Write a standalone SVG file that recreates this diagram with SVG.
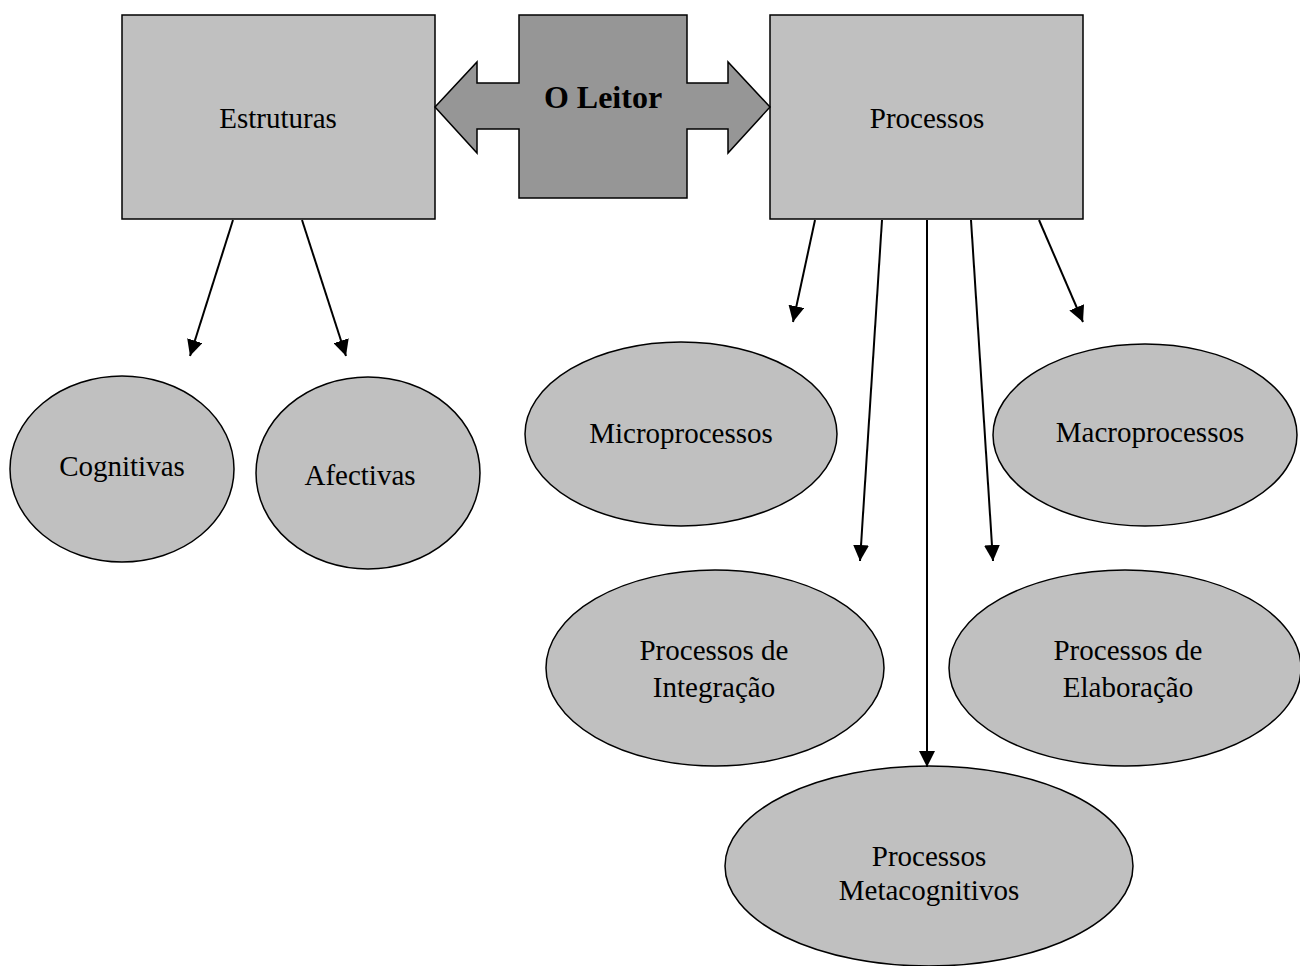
<svg xmlns="http://www.w3.org/2000/svg" width="1300" height="966" viewBox="0 0 1300 966">
<style>
.box{fill:#c0c0c0;stroke:#000;stroke-width:1.5}
.ell{fill:#c0c0c0;stroke:#000;stroke-width:1.5}
.t{font-family:"Liberation Serif","Times New Roman",serif;font-size:29px;fill:#000;text-anchor:middle}
.b{font-weight:bold;font-size:32px}
.c{stroke:#000;stroke-width:2;fill:none;marker-end:url(#ah)}
</style>
<defs>
<marker id="ah" markerWidth="8" markerHeight="8" refX="8" refY="4" orient="auto" markerUnits="strokeWidth" viewBox="0 0 8 8">
<path d="M0,0 L8,4 L0,8 z" fill="#000"/>
</marker>
</defs>
<rect width="1300" height="966" fill="#fff"/>
<g id="estruturas"><rect class="box" x="122" y="15" width="313" height="204"/><text class="t" x="278" y="128">Estruturas</text></g>
<g id="processos"><rect class="box" x="770" y="15" width="313" height="204"/><text class="t" x="927" y="128">Processos</text></g>
<g id="leitor"><path d="M519,15 H687 V83 H728 V62 L770,107 L728,153 V129 H687 V198 H519 V129 H477 V153 L435,107 L477,62 V83 H519 Z" fill="#969696" stroke="#000" stroke-width="1.5"/><text class="t b" x="603" y="108">O Leitor</text></g>
<g id="cognitivas"><ellipse class="ell" cx="122" cy="469" rx="112" ry="93"/><text class="t" x="122" y="476">Cognitivas</text></g>
<g id="afectivas"><ellipse class="ell" cx="368" cy="473" rx="112" ry="96"/><text class="t" x="360" y="485">Afectivas</text></g>
<g id="micro"><ellipse class="ell" cx="681" cy="434" rx="156" ry="92"/><text class="t" x="681" y="443">Microprocessos</text></g>
<g id="macro"><ellipse class="ell" cx="1145" cy="435" rx="152" ry="91"/><text class="t" x="1150" y="442">Macroprocessos</text></g>
<g id="integracao"><ellipse class="ell" cx="715" cy="668" rx="169" ry="98"/><text class="t" x="714" y="660">Processos de</text><text class="t" x="714" y="697">Integração</text></g>
<g id="elaboracao"><ellipse class="ell" cx="1125" cy="668" rx="176" ry="98"/><text class="t" x="1128" y="660">Processos de</text><text class="t" x="1128" y="697">Elaboração</text></g>
<g id="metacognitivos"><ellipse class="ell" cx="929" cy="866" rx="204" ry="100"/><text class="t" x="929" y="866">Processos</text><text class="t" x="929" y="900">Metacognitivos</text></g>
<g id="connectors">
<line class="c" x1="233" y1="220" x2="190" y2="356"/>
<line class="c" x1="302" y1="220" x2="346" y2="356"/>
<line class="c" x1="815" y1="220" x2="793" y2="322"/>
<line class="c" x1="882" y1="220" x2="860" y2="561"/>
<line class="c" x1="927" y1="220" x2="927" y2="767"/>
<line class="c" x1="971" y1="220" x2="993" y2="561"/>
<line class="c" x1="1039" y1="220" x2="1083" y2="322"/>
</g>
</svg>
